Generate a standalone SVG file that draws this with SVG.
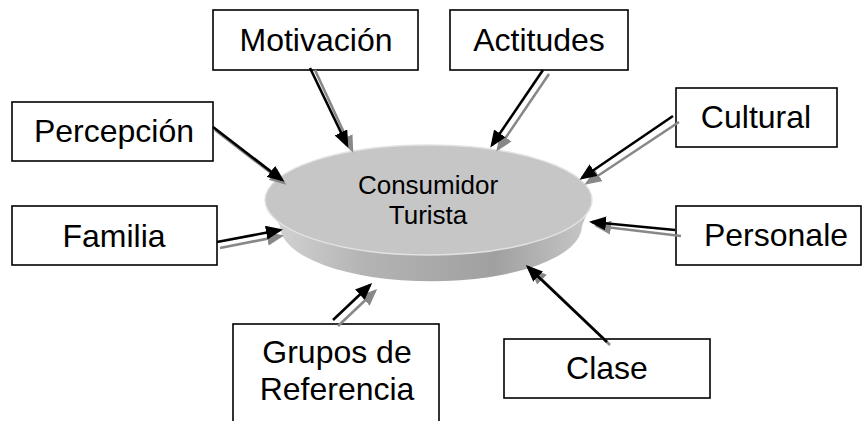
<svg xmlns="http://www.w3.org/2000/svg" width="863" height="421" viewBox="0 0 863 421">
<defs>
<style>
.box{fill:#fff;stroke:#000;stroke-width:1.6}
.lbl{font-family:"Liberation Sans",Arial,sans-serif;font-size:32px;fill:#000;text-anchor:middle}
.ctr{font-family:"Liberation Sans",Arial,sans-serif;font-size:26px;fill:#000;text-anchor:middle}
.blk{stroke:#000;stroke-width:2.6;fill:none;marker-end:url(#ahb)}
.gry{stroke:#888;stroke-width:2.6;fill:none;marker-end:url(#ahg)}
</style>
<marker id="ahb" markerWidth="17" markerHeight="14" refX="14" refY="7" orient="auto" markerUnits="userSpaceOnUse"><path d="M0,0 L17,7 L0,14 Z" fill="#000"/></marker>
<marker id="ahg" markerWidth="17" markerHeight="14" refX="14" refY="7" orient="auto" markerUnits="userSpaceOnUse"><path d="M0,0 L17,7 L0,14 Z" fill="#888"/></marker>
<linearGradient id="side" x1="0" y1="0" x2="1" y2="0">
<stop offset="0" stop-color="#d6d6d6"/>
<stop offset="0.3" stop-color="#b4b4b4"/>
<stop offset="0.7" stop-color="#a0a0a0"/>
<stop offset="1" stop-color="#c8c8c8"/>
</linearGradient>
</defs>
<g id="consumidor">
<path d="M265,200 L280,226 A150,55 0 0 0 582,226 L592,200 Z" fill="url(#side)"/>
<ellipse cx="428.5" cy="200" rx="163.5" ry="55" fill="#c6c6c6" stroke="#e2e2e2" stroke-width="1.5"/>
<text class="ctr" x="428" y="194">Consumidor</text>
<text class="ctr" x="428" y="224">Turista</text>
</g>
<g id="motivacion"><rect class="box" x="213" y="10" width="205" height="60"/><text class="lbl" x="316" y="51">Motivación</text></g>
<g id="actitudes"><rect class="box" x="450" y="10" width="178" height="60"/><text class="lbl" x="539" y="51">Actitudes</text></g>
<g id="percepcion"><rect class="box" x="12" y="102" width="201" height="59"/><text class="lbl" x="114" y="142">Percepción</text></g>
<g id="cultural"><rect class="box" x="676" y="88" width="161" height="59"/><text class="lbl" x="756" y="128">Cultural</text></g>
<g id="familia"><rect class="box" x="12" y="206" width="205" height="59"/><text class="lbl" x="114" y="247">Familia</text></g>
<g id="personale"><rect class="box" x="676" y="206" width="185" height="59"/><text class="lbl" x="776" y="246">Personale</text></g>
<g id="grupos"><rect class="box" x="233" y="324" width="206" height="110"/><text class="lbl" x="337" y="363">Grupos de</text><text class="lbl" x="337" y="400">Referencia</text></g>
<g id="clase"><rect class="box" x="504" y="339" width="206" height="59"/><text class="lbl" x="607" y="379">Clase</text></g>
<g id="connectors">
<line class="gry" x1="315" y1="70" x2="352" y2="150"/>
<line class="blk" x1="310" y1="68" x2="347" y2="145"/>
<line class="gry" x1="549" y1="74" x2="498" y2="149"/>
<line class="blk" x1="543" y1="70" x2="492" y2="145"/>
<line class="gry" x1="215" y1="130" x2="284" y2="183"/>
<line class="blk" x1="213" y1="127" x2="282" y2="180"/>
<line class="gry" x1="679" y1="122" x2="587" y2="183"/>
<line class="blk" x1="673" y1="116" x2="582" y2="178"/>
<line class="gry" x1="220" y1="248" x2="281" y2="236"/>
<line class="blk" x1="217" y1="242" x2="280" y2="230"/>
<line class="gry" x1="681" y1="236" x2="597" y2="226"/>
<line class="blk" x1="675" y1="230" x2="592" y2="222"/>
<line class="gry" x1="338" y1="326" x2="375" y2="291"/>
<line class="blk" x1="333" y1="320" x2="370" y2="285"/>
<line class="gry" x1="610" y1="345" x2="532" y2="270"/>
<line class="blk" x1="607" y1="342" x2="528" y2="267"/>
</g>
</svg>
